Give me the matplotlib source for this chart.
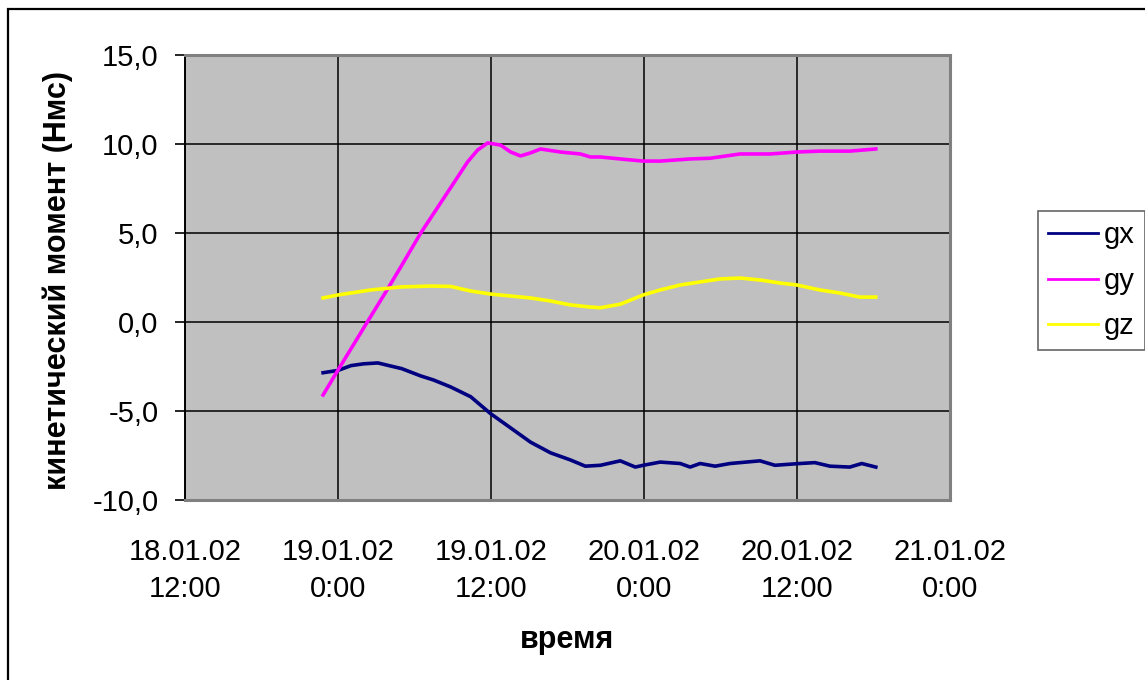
import matplotlib
matplotlib.use("Agg")
import matplotlib.pyplot as plt
from matplotlib.patches import Rectangle

plt.rcParams['font.family'] = ['Liberation Sans', 'DejaVu Sans']

# hours since 19.01.02 0:00
gx_h = [-1.17, 0.0, 1.02, 2.0, 3.13, 4.0, 5.0, 6.49, 7.5, 8.84, 10.41, 11.97,
        13.54, 15.1, 16.67, 18.23, 19.4, 20.58, 22.14, 23.32, 23.94, 25.27,
        26.84, 27.62, 28.4, 29.58, 30.75, 33.1, 34.27, 36.23, 37.4, 38.58,
        40.14, 41.08, 42.18]
gx_v = [-2.85, -2.72, -2.45, -2.35, -2.3, -2.45, -2.62, -3.03, -3.26, -3.65,
        -4.2, -5.15, -5.95, -6.75, -7.35, -7.75, -8.1, -8.05, -7.8, -8.15,
        -8.05, -7.87, -7.95, -8.15, -7.95, -8.1, -7.95, -7.8, -8.05, -7.95,
        -7.9, -8.1, -8.15, -7.95, -8.15]

gy_h = [-1.17, 0.0, 2.3, 3.76, 4.93, 6.49, 8.61, 10.17, 10.95, 11.74, 12.75,
        13.54, 14.32, 15.1, 15.88, 17.45, 19.01, 19.8, 20.58, 22.14, 23.94,
        25.27, 27.62, 29.19, 31.53, 33.88, 35.99, 37.79, 40.14, 42.18]
gy_v = [-4.1, -2.7, 0.0, 1.7, 3.1, 5.0, 7.3, 9.0, 9.66, 10.06, 9.94, 9.55,
        9.33, 9.5, 9.72, 9.55, 9.44, 9.27, 9.27, 9.16, 9.04, 9.04, 9.16, 9.2,
        9.44, 9.44, 9.55, 9.6, 9.6, 9.72]

gz_h = [-1.17, 0.0, 1.02, 2.58, 4.93, 7.28, 8.84, 10.41, 11.97, 13.54, 15.1,
        16.67, 18.23, 19.8, 20.58, 22.14, 23.94, 25.27, 26.84, 28.4, 29.97,
        31.53, 33.1, 34.66, 35.99, 37.79, 39.36, 40.92, 42.18]
gz_v = [1.35, 1.52, 1.63, 1.8, 1.97, 2.02, 2.0, 1.74, 1.57, 1.46, 1.35, 1.18,
        0.96, 0.84, 0.8, 1.0, 1.52, 1.8, 2.08, 2.25, 2.42, 2.47, 2.36, 2.19,
        2.08, 1.8, 1.63, 1.4, 1.4]

x_ticks = [-12, 0, 12, 24, 36, 48]
x_labels = ["18.01.02\n12:00", "19.01.02\n0:00", "19.01.02\n12:00",
            "20.01.02\n0:00", "20.01.02\n12:00", "21.01.02\n0:00"]
y_ticks = [-10, -5, 0, 5, 10, 15]
y_labels = ["-10,0", "-5,0", "0,0", "5,0", "10,0", "15,0"]

fig = plt.figure(figsize=(11.45, 6.8), dpi=100)
ax = fig.add_axes([185/1145, 1-500/680, (950-185)/1145, (500-55)/680])
ax.set_facecolor("#c0c0c0")

ax.plot(gx_h, gx_v, color="#000080", lw=2.6, label="gx")
ax.plot(gy_h, gy_v, color="#ff00ff", lw=2.6, label="gy")
ax.plot(gz_h, gz_v, color="#ffff00", lw=2.6, label="gz")

ax.set_xlim(-12, 48)
ax.set_ylim(-10, 15)
ax.set_xticks(x_ticks)
ax.set_xticklabels(x_labels, fontsize=21, linespacing=1.42)
ax.set_yticks(y_ticks)
ax.set_yticklabels(y_labels, fontsize=21)
ax.tick_params(axis="x", length=0, pad=27)
ax.tick_params(axis="y", length=7, width=1.2, pad=12, color="black")
ax.set_axisbelow(True)
ax.grid(True, color="black", lw=1.1)

for s in ["top", "right", "bottom"]:
    ax.spines[s].set_color("#808080")
    ax.spines[s].set_linewidth(2.2)
ax.spines["left"].set_color("black")
ax.spines["left"].set_linewidth(1.4)

fig.text(567/1145, 1-640/680, "время", ha="center", va="center",
         fontsize=22, fontweight="bold")
fig.text(58/1145, 1-280/680, "кинетический момент (Нмс)", ha="center",
         va="center", rotation=90, fontsize=22, fontweight="bold")

leg = fig.legend(loc="upper left", bbox_to_anchor=(1038/1145, 1-211/680),
                 borderaxespad=0, fontsize=21, frameon=True, fancybox=False,
                 handlelength=1.7, handletextpad=0.2, labelspacing=0.6,
                 borderpad=0.35)
leg.get_frame().set_edgecolor("#404040")
leg.get_frame().set_linewidth(1.2)
for line in leg.get_lines():
    line.set_linewidth(2.0)

fig.add_artist(Rectangle((8/1145, -0.05), 1.1, 1-9/680+0.05,
                         transform=fig.transFigure, fill=False,
                         ec="black", lw=1.6))

fig.savefig("out.png", dpi=100)
